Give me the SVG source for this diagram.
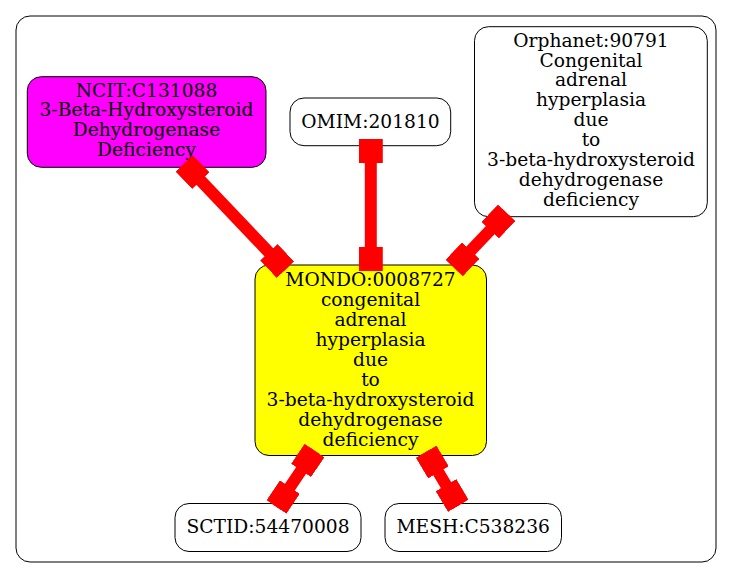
<svg xmlns="http://www.w3.org/2000/svg" width="733" height="579" viewBox="0 0 733 579">
<style>
.node rect{stroke:#000;stroke-width:1;}
.plain{fill:#fff;}
text{font-family:"DejaVu Serif","Liberation Serif",serif;font-size:18.67px;text-anchor:middle;fill:#000;}
.edge{stroke:#ff0000;stroke-width:12;fill:none;marker-start:url(#box);marker-end:url(#box);}
</style>
<defs>
<marker id="box" markerUnits="userSpaceOnUse" markerWidth="24" markerHeight="24" refX="24" refY="12" orient="auto-start-reverse">
<rect x="0" y="0" width="24" height="24" fill="#ff0000"/>
</marker>
</defs>
<rect x="0" y="0" width="733" height="579" fill="#fff"/>
<g id="cluster">
<rect x="16" y="16" width="700" height="546" rx="14" fill="none" stroke="#000" stroke-width="1"/>
</g>
<g id="NCIT" class="node">
<rect x="27.3" y="76.7" width="238.7" height="90.6" rx="14" fill="#ff00ff"/>
<text x="146.5" y="96.5">NCIT:C131088</text>
<text x="146.5" y="116.2">3-Beta-Hydroxysteroid</text>
<text x="146.5" y="136">Dehydrogenase</text>
<text x="146.5" y="155.7">Deficiency</text>
</g>
<g id="OMIM" class="node">
<rect class="plain" x="290" y="98" width="160.7" height="47.7" rx="14"/>
<text x="370.5" y="128">OMIM:201810</text>
</g>
<g id="Orphanet" class="node">
<rect class="plain" x="474.5" y="26.7" width="232.8" height="190" rx="14"/>
<text x="591" y="46.6">Orphanet:90791</text>
<text x="591" y="66.5">Congenital</text>
<text x="591" y="86.4">adrenal</text>
<text x="591" y="106.3">hyperplasia</text>
<text x="591" y="126.2">due</text>
<text x="591" y="146.1">to</text>
<text x="591" y="166">3-beta-hydroxysteroid</text>
<text x="591" y="185.9">dehydrogenase</text>
<text x="591" y="205.8">deficiency</text>
</g>
<g id="MONDO" class="node">
<rect x="255" y="265" width="231.5" height="190.5" rx="14" fill="#ffff00"/>
<text x="370.5" y="286">MONDO:0008727</text>
<text x="370.5" y="306">congenital</text>
<text x="370.5" y="326">adrenal</text>
<text x="370.5" y="346">hyperplasia</text>
<text x="370.5" y="366">due</text>
<text x="370.5" y="386">to</text>
<text x="370.5" y="406">3-beta-hydroxysteroid</text>
<text x="370.5" y="426">dehydrogenase</text>
<text x="370.5" y="446">deficiency</text>
</g>
<g id="SCTID" class="node">
<rect class="plain" x="175" y="503.5" width="186" height="48" rx="14"/>
<text x="268" y="533.3">SCTID:54470008</text>
</g>
<g id="MESH" class="node">
<rect class="plain" x="385" y="503.5" width="176.5" height="48" rx="14"/>
<text x="473.2" y="533.3">MESH:C538236</text>
</g>
<g id="edges">
<path class="edge" d="M184.3,163.3 L285.4,269.7"/>
<path class="edge" d="M370.8,139 L370.8,271"/>
<path class="edge" d="M506.7,212.8 L454.2,268"/>
<path class="edge" d="M314.5,450.5 L276.5,507"/>
<path class="edge" d="M426.2,451.7 L458.3,505.8"/>
</g>
</svg>
